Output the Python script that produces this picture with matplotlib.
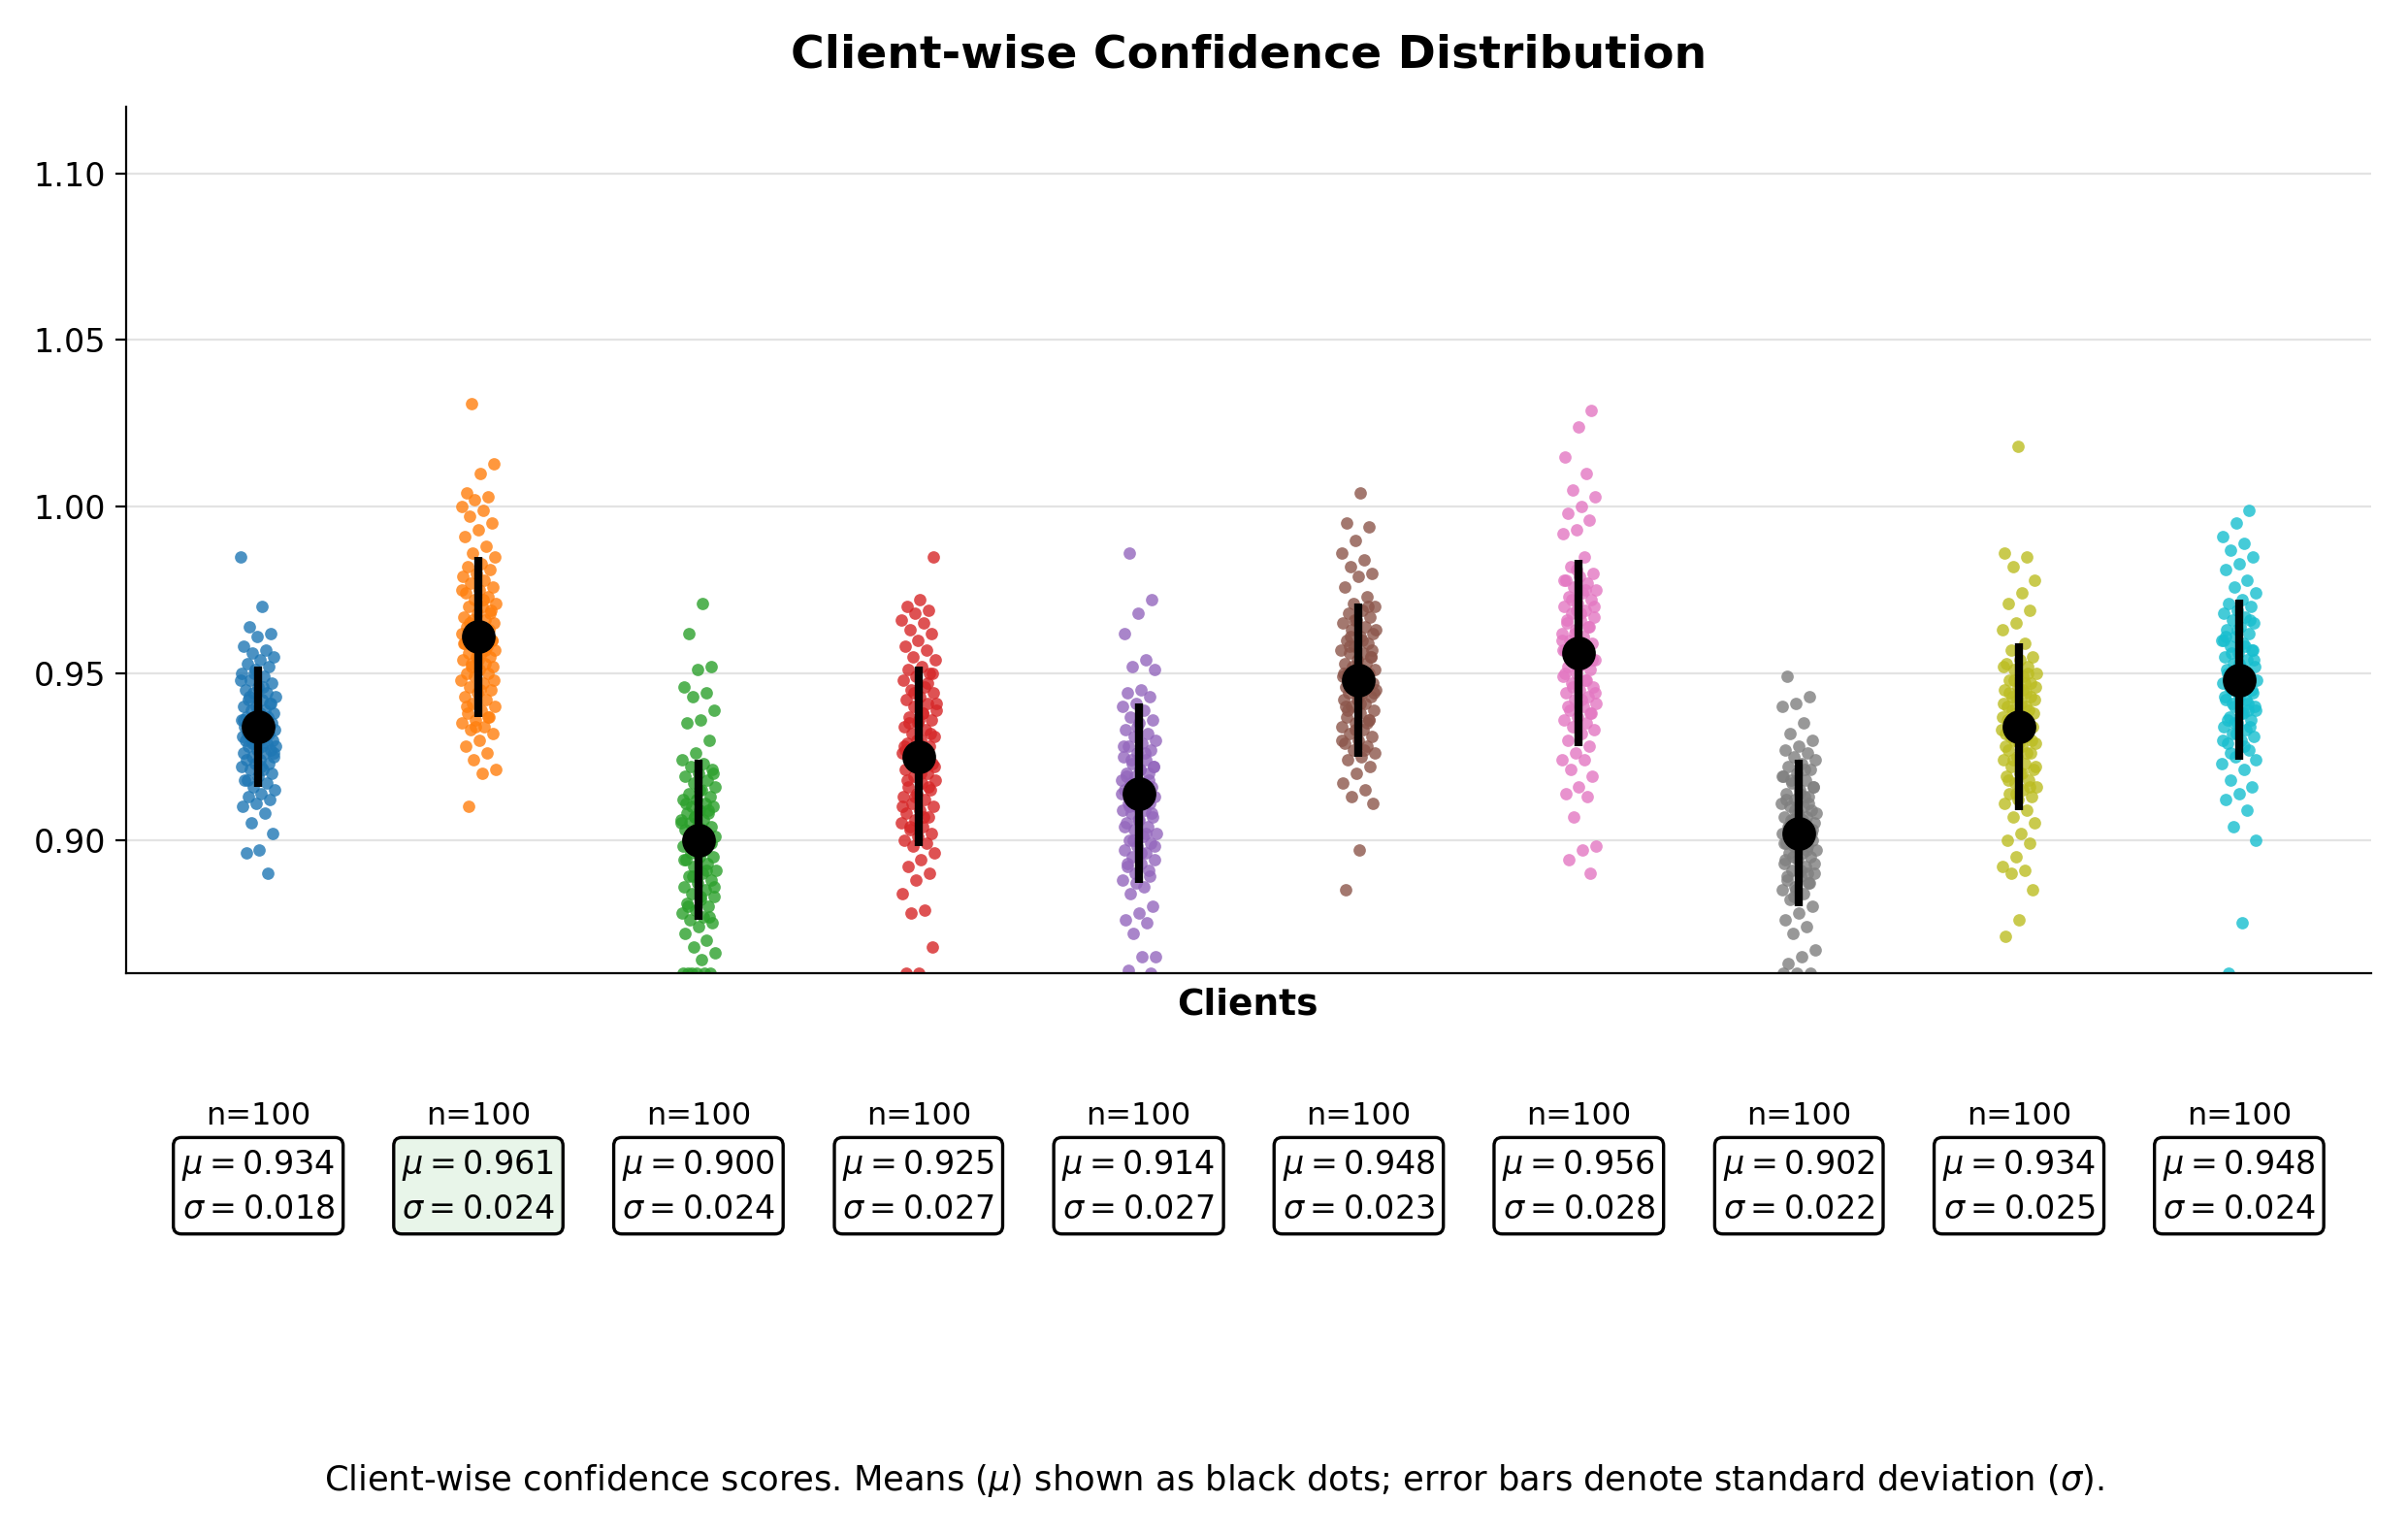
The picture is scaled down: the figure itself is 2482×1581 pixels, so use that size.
import matplotlib
matplotlib.use("Agg")
import numpy as np
import matplotlib.pyplot as plt
from matplotlib.transforms import blended_transform_factory

# confidence scores per client
client_01 = [0.985, 0.970, 0.964, 0.962, 0.961, 0.958, 0.957, 0.956, 0.955, 0.954,
             0.953, 0.952, 0.951, 0.950, 0.949, 0.948, 0.947, 0.946, 0.945, 0.944,
             0.944, 0.943, 0.942, 0.942, 0.941, 0.940, 0.940, 0.939, 0.939, 0.938,
             0.938, 0.937, 0.937, 0.936, 0.936, 0.935, 0.935, 0.935, 0.934, 0.934,
             0.934, 0.933, 0.933, 0.933, 0.932, 0.932, 0.932, 0.931, 0.931, 0.931,
             0.930, 0.930, 0.930, 0.929, 0.929, 0.928, 0.928, 0.928, 0.927, 0.927,
             0.926, 0.926, 0.925, 0.925, 0.924, 0.924, 0.923, 0.923, 0.922, 0.921,
             0.921, 0.920, 0.919, 0.918, 0.917, 0.916, 0.915, 0.914, 0.913, 0.912,
             0.911, 0.910, 0.908, 0.905, 0.902, 0.897, 0.896, 0.890, 0.950, 0.948,
             0.946, 0.943, 0.941, 0.938, 0.936, 0.933, 0.929, 0.926, 0.922, 0.918]
client_02 = [1.031, 1.013, 1.010, 1.004, 1.003, 1.002, 1.000, 0.999, 0.997, 0.995,
             0.993, 0.991, 0.988, 0.986, 0.985, 0.983, 0.982, 0.981, 0.980, 0.979,
             0.978, 0.977, 0.976, 0.975, 0.974, 0.973, 0.972, 0.971, 0.970, 0.970,
             0.969, 0.968, 0.967, 0.966, 0.966, 0.965, 0.964, 0.964, 0.963, 0.962,
             0.962, 0.961, 0.961, 0.960, 0.960, 0.959, 0.958, 0.958, 0.957, 0.956,
             0.956, 0.955, 0.955, 0.954, 0.953, 0.953, 0.952, 0.951, 0.950, 0.950,
             0.949, 0.948, 0.947, 0.946, 0.945, 0.944, 0.943, 0.942, 0.941, 0.940,
             0.939, 0.938, 0.937, 0.936, 0.935, 0.934, 0.933, 0.932, 0.930, 0.928,
             0.926, 0.924, 0.921, 0.920, 0.910, 0.968, 0.963, 0.959, 0.957, 0.952,
             0.948, 0.945, 0.940, 0.937, 0.934, 0.975, 0.972, 0.965, 0.960, 0.954]
client_03 = [0.971, 0.962, 0.952, 0.951, 0.946, 0.944, 0.943, 0.939, 0.936, 0.935,
             0.930, 0.926, 0.924, 0.923, 0.922, 0.921, 0.920, 0.919, 0.918, 0.917,
             0.916, 0.915, 0.914, 0.913, 0.912, 0.912, 0.911, 0.910, 0.910, 0.909,
             0.908, 0.908, 0.907, 0.906, 0.906, 0.905, 0.904, 0.904, 0.903, 0.902,
             0.902, 0.901, 0.900, 0.900, 0.899, 0.898, 0.898, 0.897, 0.896, 0.895,
             0.895, 0.894, 0.893, 0.892, 0.891, 0.890, 0.889, 0.888, 0.887, 0.886,
             0.885, 0.884, 0.883, 0.882, 0.881, 0.880, 0.879, 0.878, 0.877, 0.876,
             0.875, 0.874, 0.872, 0.870, 0.868, 0.866, 0.864, 0.860, 0.860, 0.860,
             0.860, 0.860, 0.860, 0.920, 0.915, 0.911, 0.909, 0.907, 0.905, 0.903,
             0.901, 0.899, 0.897, 0.894, 0.891, 0.889, 0.886, 0.883, 0.880, 0.877]
client_04 = [0.985, 0.972, 0.970, 0.969, 0.968, 0.966, 0.965, 0.963, 0.962, 0.960,
             0.958, 0.957, 0.955, 0.954, 0.952, 0.951, 0.950, 0.949, 0.948, 0.946,
             0.945, 0.944, 0.943, 0.942, 0.941, 0.940, 0.939, 0.938, 0.937, 0.936,
             0.935, 0.934, 0.933, 0.932, 0.931, 0.930, 0.929, 0.928, 0.927, 0.926,
             0.925, 0.924, 0.923, 0.922, 0.921, 0.920, 0.919, 0.918, 0.917, 0.916,
             0.915, 0.914, 0.913, 0.912, 0.911, 0.910, 0.909, 0.908, 0.907, 0.906,
             0.905, 0.904, 0.903, 0.902, 0.901, 0.900, 0.899, 0.898, 0.896, 0.894,
             0.892, 0.890, 0.888, 0.884, 0.879, 0.878, 0.868, 0.860, 0.860, 0.947,
             0.944, 0.941, 0.938, 0.935, 0.932, 0.930, 0.928, 0.926, 0.924, 0.922,
             0.920, 0.918, 0.916, 0.913, 0.910, 0.907, 0.904, 0.950, 0.936, 0.927]
client_05 = [0.986, 0.972, 0.968, 0.962, 0.954, 0.952, 0.951, 0.945, 0.944, 0.943,
             0.941, 0.940, 0.939, 0.937, 0.936, 0.935, 0.933, 0.932, 0.931, 0.930,
             0.929, 0.928, 0.927, 0.926, 0.925, 0.924, 0.923, 0.922, 0.921, 0.920,
             0.920, 0.919, 0.918, 0.917, 0.917, 0.916, 0.915, 0.915, 0.914, 0.913,
             0.913, 0.912, 0.911, 0.911, 0.910, 0.909, 0.909, 0.908, 0.907, 0.906,
             0.905, 0.904, 0.903, 0.902, 0.901, 0.900, 0.899, 0.898, 0.897, 0.896,
             0.895, 0.894, 0.893, 0.892, 0.891, 0.890, 0.888, 0.886, 0.884, 0.880,
             0.878, 0.876, 0.875, 0.872, 0.865, 0.865, 0.861, 0.860, 0.934, 0.928,
             0.926, 0.924, 0.922, 0.921, 0.919, 0.918, 0.916, 0.914, 0.912, 0.910,
             0.908, 0.906, 0.904, 0.902, 0.900, 0.898, 0.896, 0.893, 0.889, 0.887]
client_06 = [1.004, 0.995, 0.994, 0.990, 0.986, 0.984, 0.982, 0.980, 0.979, 0.976,
             0.973, 0.971, 0.970, 0.969, 0.968, 0.967, 0.966, 0.965, 0.964, 0.963,
             0.962, 0.961, 0.960, 0.959, 0.958, 0.957, 0.956, 0.956, 0.955, 0.954,
             0.953, 0.953, 0.952, 0.951, 0.951, 0.950, 0.950, 0.949, 0.949, 0.948,
             0.948, 0.947, 0.947, 0.946, 0.946, 0.945, 0.945, 0.944, 0.944, 0.943,
             0.942, 0.942, 0.941, 0.940, 0.939, 0.938, 0.937, 0.936, 0.935, 0.934,
             0.933, 0.932, 0.931, 0.930, 0.929, 0.928, 0.927, 0.926, 0.925, 0.924,
             0.922, 0.920, 0.917, 0.915, 0.913, 0.911, 0.897, 0.885, 0.970, 0.966,
             0.963, 0.960, 0.958, 0.955, 0.952, 0.950, 0.948, 0.946, 0.944, 0.941,
             0.939, 0.936, 0.933, 0.930, 0.927, 0.961, 0.957, 0.943, 0.940, 0.935]
client_07 = [1.029, 1.024, 1.015, 1.010, 1.005, 1.003, 1.000, 0.998, 0.996, 0.993,
             0.992, 0.985, 0.982, 0.980, 0.979, 0.978, 0.977, 0.976, 0.975, 0.974,
             0.973, 0.972, 0.971, 0.970, 0.969, 0.968, 0.967, 0.966, 0.965, 0.964,
             0.963, 0.962, 0.961, 0.960, 0.959, 0.958, 0.957, 0.956, 0.955, 0.954,
             0.953, 0.952, 0.951, 0.950, 0.949, 0.948, 0.947, 0.946, 0.945, 0.944,
             0.943, 0.942, 0.941, 0.940, 0.939, 0.938, 0.937, 0.936, 0.935, 0.934,
             0.933, 0.932, 0.930, 0.928, 0.926, 0.924, 0.924, 0.921, 0.919, 0.916,
             0.914, 0.913, 0.907, 0.898, 0.897, 0.894, 0.890, 0.981, 0.978, 0.975,
             0.972, 0.970, 0.968, 0.966, 0.964, 0.962, 0.960, 0.958, 0.956, 0.954,
             0.952, 0.950, 0.948, 0.946, 0.944, 0.942, 0.940, 0.938, 0.969, 0.957]
client_08 = [0.949, 0.943, 0.941, 0.940, 0.935, 0.932, 0.930, 0.928, 0.927, 0.926,
             0.925, 0.924, 0.923, 0.922, 0.921, 0.920, 0.919, 0.918, 0.917, 0.916,
             0.915, 0.914, 0.913, 0.912, 0.911, 0.910, 0.910, 0.909, 0.908, 0.907,
             0.907, 0.906, 0.905, 0.905, 0.904, 0.903, 0.903, 0.902, 0.901, 0.901,
             0.900, 0.900, 0.899, 0.898, 0.898, 0.897, 0.896, 0.896, 0.895, 0.894,
             0.893, 0.892, 0.891, 0.890, 0.889, 0.888, 0.887, 0.886, 0.885, 0.884,
             0.882, 0.880, 0.878, 0.876, 0.874, 0.872, 0.867, 0.865, 0.863, 0.860,
             0.860, 0.860, 0.921, 0.918, 0.916, 0.914, 0.912, 0.911, 0.909, 0.908,
             0.906, 0.904, 0.902, 0.900, 0.899, 0.897, 0.895, 0.893, 0.891, 0.889,
             0.887, 0.885, 0.919, 0.913, 0.906, 0.903, 0.898, 0.894, 0.890, 0.883]
client_09 = [1.018, 0.986, 0.985, 0.982, 0.978, 0.974, 0.971, 0.969, 0.965, 0.963,
             0.959, 0.957, 0.955, 0.954, 0.953, 0.952, 0.951, 0.950, 0.949, 0.948,
             0.947, 0.946, 0.945, 0.944, 0.943, 0.942, 0.941, 0.940, 0.939, 0.938,
             0.937, 0.936, 0.935, 0.934, 0.933, 0.932, 0.931, 0.930, 0.929, 0.928,
             0.927, 0.926, 0.925, 0.924, 0.923, 0.922, 0.921, 0.920, 0.919, 0.918,
             0.917, 0.916, 0.915, 0.914, 0.913, 0.912, 0.911, 0.909, 0.907, 0.905,
             0.902, 0.900, 0.899, 0.895, 0.892, 0.891, 0.890, 0.885, 0.876, 0.871,
             0.950, 0.948, 0.946, 0.945, 0.944, 0.943, 0.942, 0.941, 0.940, 0.939,
             0.938, 0.937, 0.936, 0.935, 0.934, 0.933, 0.932, 0.931, 0.930, 0.929,
             0.928, 0.926, 0.924, 0.922, 0.920, 0.918, 0.916, 0.914, 0.952, 0.947]
client_10 = [0.999, 0.995, 0.991, 0.989, 0.987, 0.985, 0.983, 0.981, 0.978, 0.976,
             0.974, 0.972, 0.971, 0.970, 0.969, 0.968, 0.967, 0.966, 0.965, 0.964,
             0.963, 0.962, 0.961, 0.960, 0.959, 0.958, 0.957, 0.956, 0.955, 0.954,
             0.953, 0.952, 0.951, 0.950, 0.949, 0.948, 0.947, 0.946, 0.945, 0.944,
             0.943, 0.942, 0.941, 0.940, 0.939, 0.938, 0.937, 0.936, 0.935, 0.934,
             0.933, 0.932, 0.931, 0.930, 0.929, 0.927, 0.925, 0.923, 0.921, 0.918,
             0.916, 0.914, 0.912, 0.909, 0.904, 0.900, 0.875, 0.860, 0.966, 0.963,
             0.960, 0.958, 0.956, 0.954, 0.952, 0.951, 0.950, 0.949, 0.948, 0.947,
             0.946, 0.945, 0.944, 0.943, 0.942, 0.941, 0.940, 0.938, 0.936, 0.934,
             0.932, 0.930, 0.928, 0.926, 0.957, 0.953, 0.961, 0.939, 0.935, 0.924]

clients = [client_01, client_02, client_03, client_04, client_05,
           client_06, client_07, client_08, client_09, client_10]

# summary numbers as printed under each client
means = [0.934, 0.961, 0.900, 0.925, 0.914, 0.948, 0.956, 0.902, 0.934, 0.948]
stds = [0.018, 0.024, 0.024, 0.027, 0.027, 0.023, 0.028, 0.022, 0.025, 0.024]
counts = [100, 100, 100, 100, 100, 100, 100, 100, 100, 100]

colors = plt.get_cmap("tab10").colors
best = int(np.argmax(means))

fig = plt.figure(figsize=(12.41, 7.905), dpi=200)
ax = fig.add_axes([0.0524, 0.3656, 0.9323, 0.5648])

# strip of individual scores, spread sideways with a fixed golden-ratio jitter
for i, vals in enumerate(clients):
    k = np.arange(len(vals))
    jitter = 0.08 * (2 * ((k * 0.6180339887 + 0.31 * i) % 1.0) - 1)
    ax.scatter(i + jitter, vals, s=21, color=colors[i], alpha=0.8,
               linewidths=0, zorder=2)

# mean and standard deviation
ax.errorbar(range(len(means)), means, yerr=stds, fmt="o", color="black",
            markersize=11.5, elinewidth=3, capsize=0, zorder=3)

ax.set_xlim(-0.6, 9.6)
ax.set_ylim(0.86, 1.12)
ax.set_yticks([0.90, 0.95, 1.00, 1.05, 1.10])
ax.set_yticklabels(["0.90", "0.95", "1.00", "1.05", "1.10"])
ax.tick_params(axis="y", labelsize=12, length=4, width=0.8)
ax.set_xticks([])
ax.yaxis.grid(True, color="#e3e3e3", linewidth=0.8)
ax.set_axisbelow(True)
ax.spines["top"].set_visible(False)
ax.spines["right"].set_visible(False)

fig.text(0.5185, 0.9640, "Client-wise Confidence Distribution",
         ha="center", va="center", fontsize=17, fontweight="bold")
fig.text(0.5180, 0.3452, "Clients", ha="center", va="center",
         fontsize=13.5, fontweight="bold")

trans = blended_transform_factory(ax.transData, fig.transFigure)
for i in range(len(means)):
    ax.text(i, 0.2720, f"n={counts[i]}", transform=trans, ha="center",
            va="center", fontsize=11.5)
    face = "#e8f5e9" if i == best else "white"
    ax.text(i, 0.2264, f"$\\mu = {means[i]:.3f}$\n$\\sigma = {stds[i]:.3f}$",
            transform=trans, ha="center", va="center", fontsize=12,
            linespacing=1.45,
            bbox=dict(boxstyle="round,pad=0.25", facecolor=face,
                      edgecolor="black", linewidth=1.2))

fig.text(0.5040, 0.0345,
         "Client-wise confidence scores. Means ($\\mu$) shown as black dots; "
         "error bars denote standard deviation ($\\sigma$).",
         ha="center", va="center", fontsize=12.7)

fig.savefig("out.png", dpi=200)
